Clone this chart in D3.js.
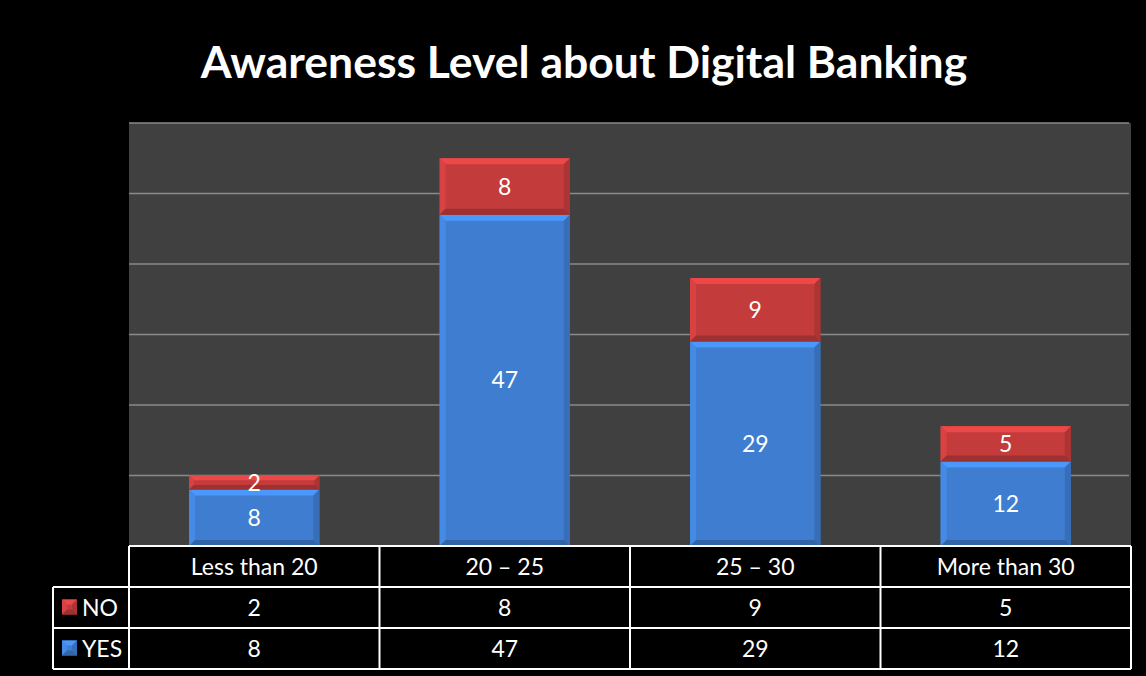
<!DOCTYPE html>
<html><head><meta charset="utf-8">
<script src="https://cdn.jsdelivr.net/npm/d3@7"></script>
<style>body{margin:0;background:#000;}svg{display:block;}</style>
</head><body>
<svg id="c" width="1146" height="676"></svg>
<script>
const categories = ["Less than 20", "20 – 25", "25 – 30", "More than 30"];
const yesValues = [8, 47, 29, 12];
const noValues = [2, 8, 9, 5];
const seriesNames = ["NO", "YES"];
const yTicks = [0, 10, 20, 30, 40, 50, 60];
const title = "Awareness Level about Digital Banking";

const svg = d3.select("#c");
const W = 1146, H = 676;
svg.append("rect").attr("width", W).attr("height", H).attr("fill", "#000");

const plot = {l: 129, r: 1131, t: 123, b: 546};
const x = d3.scaleBand().domain(categories).range([plot.l, plot.r]).paddingInner(0.48).paddingOuter(0.24);
const xc = d3.scaleBand().domain(categories).range([plot.l, plot.r]);
const y = d3.scaleLinear().domain([0, 60]).range([plot.b, plot.t]);

svg.append("rect").attr("x", plot.l).attr("y", plot.t).attr("width", plot.r - plot.l).attr("height", plot.b - plot.t).attr("fill", "#404040");
svg.append("g").selectAll("line").data(yTicks.slice(1)).join("line")
  .attr("x1", plot.l).attr("x2", plot.r - 2).attr("y1", d => y(d)).attr("y2", d => y(d))
  .attr("stroke", "#8a8a8a").attr("stroke-width", 1.6);

function bevelBar(g, x0, y0, w, h, col) {
  const b = Math.min(6, h / 3);
  const c = d3.color(col);
  g.append("rect").attr("x", x0).attr("y", y0).attr("width", w).attr("height", h).attr("fill", col);
  const light = c.brighter(0.55).formatHex(), lightS = c.brighter(0.3).formatHex(), dark = c.darker(0.6).formatHex(), darkS = c.darker(0.35).formatHex();
  const pts = (a) => a.map(p => p.join(",")).join(" ");
  g.append("polygon").attr("points", pts([[x0, y0], [x0 + w, y0], [x0 + w - b, y0 + b], [x0 + b, y0 + b]])).attr("fill", light);
  g.append("polygon").attr("points", pts([[x0, y0], [x0 + b, y0 + b], [x0 + b, y0 + h - b], [x0, y0 + h]])).attr("fill", lightS);
  g.append("polygon").attr("points", pts([[x0 + w, y0], [x0 + w, y0 + h], [x0 + w - b, y0 + h - b], [x0 + w - b, y0 + b]])).attr("fill", darkS);
  g.append("polygon").attr("points", pts([[x0, y0 + h], [x0 + b, y0 + h - b], [x0 + w - b, y0 + h - b], [x0 + w, y0 + h]])).attr("fill", dark);
}
const red = "#C33B3B", blue = "#3E7DCF";
const fs = 23;
const bars = svg.append("g");
categories.forEach((c, i) => {
  const x0 = x(c), w = x.bandwidth();
  const yv = yesValues[i], nv = noValues[i];
  bevelBar(bars, x0, y(yv), w, y(0) - y(yv), blue);
  bevelBar(bars, x0, y(yv + nv), w, y(yv) - y(yv + nv), red);
  bars.append("text").attr("x", x0 + w / 2).attr("y", (y(0) + y(yv)) / 2).attr("dy", "0.35em")
    .attr("text-anchor", "middle").attr("fill", "#fff").attr("font-family", "Lato, sans-serif").attr("font-size", fs).text(yv);
  bars.append("text").attr("x", x0 + w / 2).attr("y", (y(yv) + y(yv + nv)) / 2).attr("dy", "0.35em")
    .attr("text-anchor", "middle").attr("fill", "#fff").attr("font-family", "Lato, sans-serif").attr("font-size", fs).text(nv);
});

svg.append("text").attr("x", 584).attr("y", 78).attr("text-anchor", "middle").attr("fill", "#fff")
  .attr("font-family", "Lato, sans-serif").attr("font-weight", "bold").attr("font-size", 44.5).text(title);

const rows = [{t: 546, b: 587}, {t: 587, b: 628}, {t: 628, b: 669}];
const legL = 53;
const tbl = svg.append("g");
const line = (x1, y1, x2, y2) => tbl.append("line").attr("x1", x1).attr("y1", y1).attr("x2", x2).attr("y2", y2).attr("stroke", "#fff").attr("stroke-width", 2);
line(plot.l, rows[0].t, plot.r, rows[0].t);
line(legL, rows[1].t, plot.r, rows[1].t);
line(legL, rows[2].t, plot.r, rows[2].t);
line(legL, rows[2].b, plot.r, rows[2].b);
line(legL, rows[1].t, legL, rows[2].b);
[plot.l, ...categories.map(c => xc(c) + xc.bandwidth())].forEach(xx => line(xx, rows[0].t, xx, rows[2].b));

const tf = "Lato, sans-serif";
categories.forEach((c, i) => {
  const cx = xc(c) + xc.bandwidth() / 2;
  tbl.append("text").attr("x", cx).attr("y", (rows[0].t + rows[0].b) / 2).attr("dy", "0.35em").attr("text-anchor", "middle")
    .attr("fill", "#fff").attr("font-family", tf).attr("font-size", fs).text(c);
  tbl.append("text").attr("x", cx).attr("y", (rows[1].t + rows[1].b) / 2).attr("dy", "0.35em").attr("text-anchor", "middle")
    .attr("fill", "#fff").attr("font-family", tf).attr("font-size", fs).text(noValues[i]);
  tbl.append("text").attr("x", cx).attr("y", (rows[2].t + rows[2].b) / 2).attr("dy", "0.35em").attr("text-anchor", "middle")
    .attr("fill", "#fff").attr("font-family", tf).attr("font-size", fs).text(yesValues[i]);
});
[red, blue].forEach((col, i) => {
  const r = rows[i + 1], cy = (r.t + r.b) / 2;
  bevelBar(tbl, 62, cy - 8, 15, 15, col);
  tbl.append("text").attr("x", 82).attr("y", cy).attr("dy", "0.35em").attr("fill", "#fff")
    .attr("font-family", tf).attr("font-size", fs).text(seriesNames[i]);
});
</script>
</body></html>
